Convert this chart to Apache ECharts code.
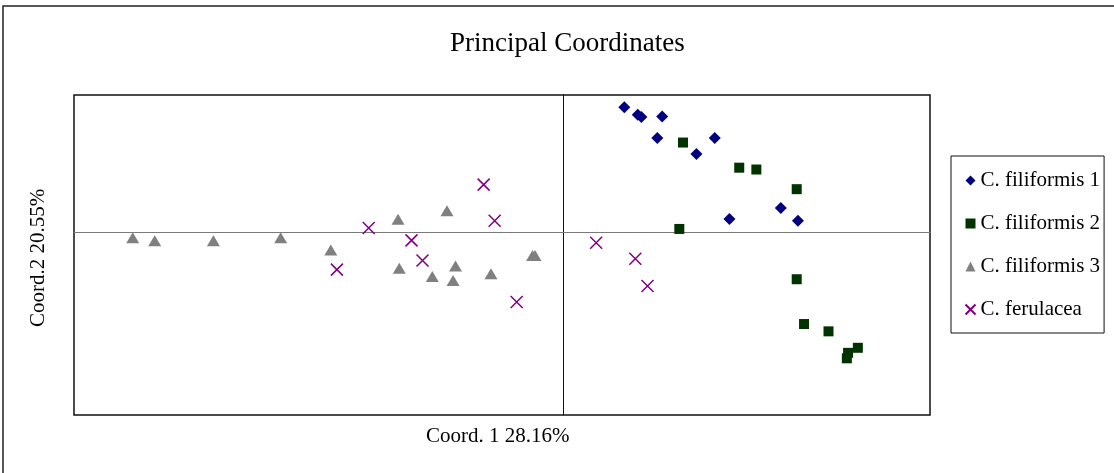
<!DOCTYPE html>
<html>
<head>
<meta charset="utf-8">
<script src="https://cdn.jsdelivr.net/npm/echarts@6/dist/echarts.min.js"></script>
<style>
  html, body { margin: 0; padding: 0; background: #fff; }
  #chart { width: 1114px; height: 473px; }
</style>
</head>
<body>
<div id="chart"></div>
<script>
// PCoA scores: [Coord. 1, Coord. 2] per sample
const filiformis1 = [
  [0.050, 0.273], [0.061, 0.257], [0.064, 0.252], [0.081, 0.253],
  [0.077, 0.206], [0.124, 0.206], [0.109, 0.171], [0.136, 0.029],
  [0.178, 0.053], [0.192, 0.025]
];
const filiformis2 = [
  [0.098, 0.196], [0.144, 0.141], [0.158, 0.137], [0.191, 0.094],
  [0.095, 0.007], [0.191, -0.103], [0.197, -0.201], [0.217, -0.217],
  [0.241, -0.253], [0.233, -0.264], [0.232, -0.276]
];
const filiformis3 = [
  [-0.352, -0.012], [-0.334, -0.019], [-0.286, -0.019], [-0.231, -0.012],
  [-0.190, -0.039], [-0.135, 0.028], [-0.095, 0.047], [-0.134, -0.079],
  [-0.107, -0.097], [-0.088, -0.074], [-0.090, -0.106], [-0.059, -0.091],
  [-0.025, -0.051], [-0.023, -0.051]
];
const ferulacea = [
  [0.027, -0.023], [0.059, -0.058], [0.069, -0.118], [-0.065, 0.104],
  [-0.056, 0.025], [-0.159, 0.009], [-0.124, -0.018], [-0.115, -0.062],
  [-0.185, -0.082], [-0.038, -0.153]
];

const seriesNames = ['C. filiformis 1', 'C. filiformis 2', 'C. filiformis 3', 'C. ferulacea'];
const titleText = 'Principal Coordinates';
const xName = 'Coord. 1 28.16%';
const yName = 'Coord.2 20.55%';

const serif = '"Liberation Serif", "DejaVu Serif", serif';
const crossPath = 'path://M0,0L10,10M10,0L0,10';

const chart = echarts.init(document.getElementById('chart'), null, { renderer: 'canvas' });

chart.setOption({
  animation: false,
  backgroundColor: '#ffffff',
  title: {
    text: titleText,
    left: 445,
    top: 25,
    textStyle: { fontFamily: serif, fontSize: 27, fontWeight: 'normal', color: '#000' }
  },
  grid: {
    left: 74, right: 184, top: 95, bottom: 58,
    show: true, borderColor: '#111', borderWidth: 1.5, backgroundColor: 'transparent'
  },
  xAxis: {
    type: 'value', min: -0.4, max: 0.3,
    axisLine: { onZero: true, lineStyle: { color: '#7a7a7a', width: 1.2 } },
    axisTick: { show: false }, axisLabel: { show: false }, splitLine: { show: false }
  },
  yAxis: {
    type: 'value', min: -0.4, max: 0.3,
    axisLine: { onZero: true, lineStyle: { color: '#111', width: 1 } },
    axisTick: { show: false }, axisLabel: { show: false }, splitLine: { show: false }
  },
  legend: {
    orient: 'vertical',
    left: 951, top: 156,
    padding: [14, 4, 13, 12],
    itemGap: 22,
    itemWidth: 10, itemHeight: 10,
    borderColor: '#111', borderWidth: 1,
    textStyle: { fontFamily: serif, fontSize: 21, color: '#000', padding: [0, 0, 0, 0] },
    data: seriesNames
  },
  graphic: [
    {
      type: 'rect', silent: true,
      shape: { x: 3, y: 6, width: 1200, height: 600 },
      style: { fill: 'none', stroke: '#222', lineWidth: 1.5 }
    },
    {
      type: 'text', silent: true,
      x: 426, y: 426,
      style: { text: xName, font: '21px ' + serif, fill: '#000' }
    },
    {
      type: 'text', silent: true,
      x: 28, y: 327, rotation: Math.PI / 2,
      style: { text: yName, font: '21px ' + serif, fill: '#000' }
    }
  ],
  series: [
    {
      name: seriesNames[0], type: 'scatter', data: filiformis1,
      symbol: 'diamond', symbolSize: 12,
      itemStyle: { color: '#000080', opacity: 1 }
    },
    {
      name: seriesNames[1], type: 'scatter', data: filiformis2,
      symbol: 'rect', symbolSize: 10,
      itemStyle: { color: '#003300', opacity: 1 }
    },
    {
      name: seriesNames[2], type: 'scatter', data: filiformis3,
      symbol: 'triangle', symbolSize: [13, 11],
      itemStyle: { color: '#808080', opacity: 1 }
    },
    {
      name: seriesNames[3], type: 'scatter', data: ferulacea,
      symbol: crossPath, symbolSize: 12,
      itemStyle: { color: 'none', borderColor: '#800080', borderWidth: 1.5, opacity: 1 }
    }
  ]
});
</script>
</body>
</html>
